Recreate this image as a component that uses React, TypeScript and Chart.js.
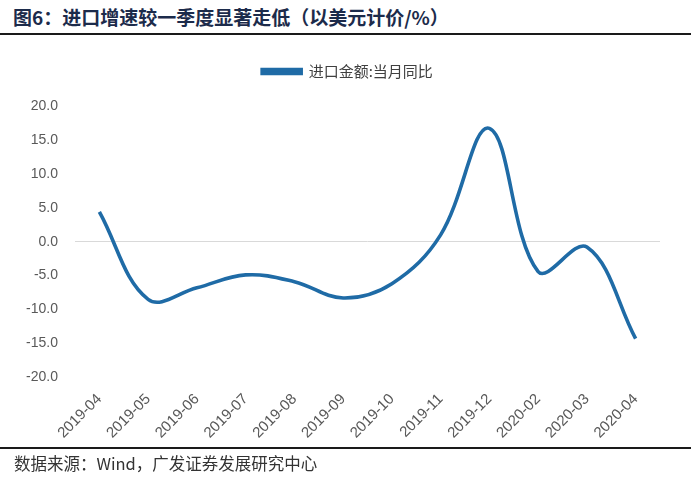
import React, { useEffect, useRef } from "react";
import { Chart, registerables } from "chart.js";

Chart.register(...registerables);

const categories = [
  "2019-04", "2019-05", "2019-06", "2019-07", "2019-08", "2019-09",
  "2019-10", "2019-11", "2019-12", "2020-02", "2020-03", "2020-04",
];
const importYoY = [4.4, -8.5, -6.8, -4.9, -5.9, -8.3, -6.2, 1.0, 16.7, -4.4, -0.8, -14.3];
const seriesName = "进口金额:当月同比";
const yMin = -20;
const yMax = 20;
const yStep = 5;

const titleText = "图6：进口增速较一季度显著走低（以美元计价/%）";
const sourceText = "数据来源：Wind，广发证券发展研究中心";

const legendSpacer = {
  id: "legendSpacer",
  beforeInit(chart: any) {
    const legend = chart.legend;
    if (!legend) return;
    const origFit = legend.fit;
    legend.fit = function () {
      origFit.bind(legend)();
      this.height += 17;
    };
  },
};

export default function App() {
  const canvasRef = useRef<HTMLCanvasElement | null>(null);

  useEffect(() => {
    document.body.style.margin = "0";
    const ctx = canvasRef.current;
    if (!ctx) return;
    const chart = new Chart(ctx, {
      type: "line",
      data: {
        labels: categories,
        datasets: [
          {
            label: seriesName,
            data: importYoY,
            borderColor: "#1F6BA6",
            backgroundColor: "#1F6BA6",
            borderWidth: 3.6,
            pointRadius: 0,
            pointHoverRadius: 0,
            tension: 0.38,
            borderCapStyle: "butt",
          },
        ],
      },
      plugins: [legendSpacer],
      options: {
        animation: false,
        responsive: false,
        maintainAspectRatio: false,
        layout: { padding: { left: 35, right: 31, top: 16, bottom: 2 } },
        plugins: {
          tooltip: { enabled: false },
          legend: {
            display: true,
            position: "top",
            labels: {
              boxWidth: 39,
              boxHeight: 4,
              padding: 6,
              color: "#404040",
              font: { family: "'Noto Sans CJK SC', sans-serif", size: 15 },
            },
          },
        },
        scales: {
          x: {
            offset: true,
            grid: { display: false, drawTicks: false },
            border: { display: false },
            ticks: {
              minRotation: 45,
              maxRotation: 45,
              autoSkip: false,
              padding: 13,
              color: "#595959",
              font: { family: "'Liberation Sans', Arial, sans-serif", size: 15 },
            },
          },
          y: {
            min: yMin,
            max: yMax,
            afterFit: (scale: any) => {
              scale.width = 40;
              scale._computeLabelArea = () => undefined;
            },
            border: { display: false },
            grid: {
              drawTicks: false,
              lineWidth: 1,
              color: (c: any) => (c.tick && c.tick.value === 0 ? "#D9D9D9" : "rgba(0,0,0,0)"),
            },
            ticks: {
              stepSize: yStep,
              padding: 17,
              color: "#595959",
              font: { family: "'Liberation Sans', Arial, sans-serif", size: 14 },
              callback: (v: any) => Number(v).toFixed(1),
            },
          },
        },
      },
    });
    return () => chart.destroy();
  }, []);

  return (
    <div style={{ position: "relative", width: 691, height: 481, background: "#fff", overflow: "hidden" }}>
      <div
        style={{
          position: "absolute",
          left: 13,
          top: 5,
          fontFamily: "'Noto Sans CJK SC', sans-serif",
          fontWeight: 700,
          fontSize: 19,
          lineHeight: "24px",
          color: "#1C2B4B",
          whiteSpace: "nowrap",
        }}
      >
        {titleText}
      </div>
      <div style={{ position: "absolute", left: 0, top: 33, width: 691, height: 2, background: "#1a1a1a" }} />
      <canvas ref={canvasRef} width={691} height={415} style={{ position: "absolute", left: 0, top: 42, width: 691, height: 415 }} />
      <div style={{ position: "absolute", left: 0, top: 447, width: 691, height: 1.5, background: "#1a1a1a" }} />
      <div
        style={{
          position: "absolute",
          left: 14,
          top: 453,
          fontFamily: "'Noto Sans CJK SC', sans-serif",
          fontSize: 16.5,
          lineHeight: "20px",
          color: "#333",
          whiteSpace: "nowrap",
        }}
      >
        {sourceText}
      </div>
    </div>
  );
}
